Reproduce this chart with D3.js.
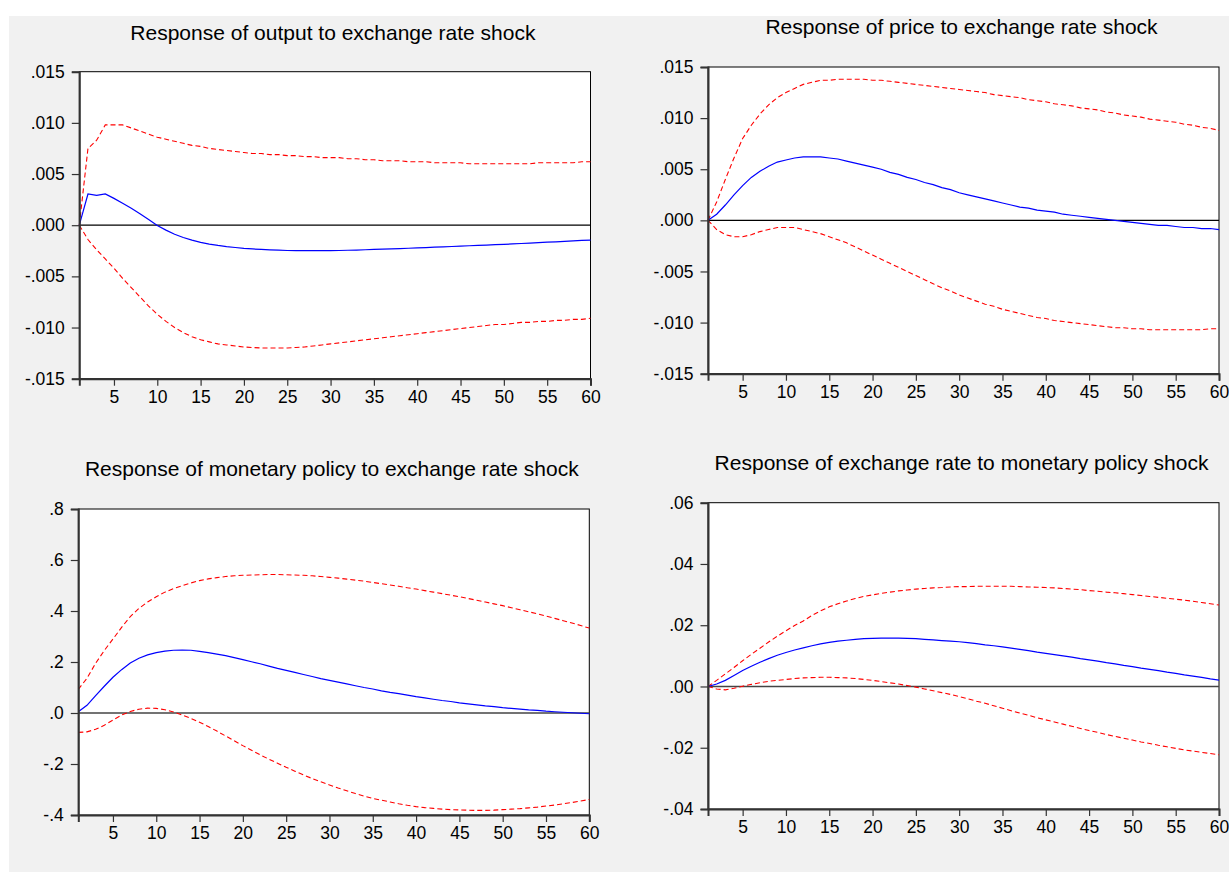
<!DOCTYPE html>
<html>
<head>
<meta charset="utf-8">
<script src="https://cdn.jsdelivr.net/npm/d3@7"></script>
<style>
  html, body { margin: 0; padding: 0; background: #ffffff; }
  svg { display: block; font-family: "Liberation Sans", Arial, sans-serif; }
</style>
</head>
<body>
<svg id="chart" width="1229" height="873"></svg>
<script>
// Impulse-response horizon
const periods = d3.range(1, 61);

// Panel titles
const titles = [
  "Response of output to exchange rate shock",
  "Response of price to exchange rate shock",
  "Response of monetary policy to exchange rate shock",
  "Response of exchange rate to monetary policy shock"
];

// X axis ticks (shared)
const xTicks = [5, 10, 15, 20, 25, 30, 35, 40, 45, 50, 55, 60];

// Y axis ticks and their labels per panel
const yTicksOutput = [-0.015, -0.010, -0.005, 0, 0.005, 0.010, 0.015];
const yLabelsOutput = ["-.015", "-.010", "-.005", ".000", ".005", ".010", ".015"];
const yTicksPrice = [-0.015, -0.010, -0.005, 0, 0.005, 0.010, 0.015];
const yLabelsPrice = ["-.015", "-.010", "-.005", ".000", ".005", ".010", ".015"];
const yTicksPolicy = [-0.4, -0.2, 0, 0.2, 0.4, 0.6, 0.8];
const yLabelsPolicy = ["-.4", "-.2", ".0", ".2", ".4", ".6", ".8"];
const yTicksRate = [-0.04, -0.02, 0, 0.02, 0.04, 0.06];
const yLabelsRate = ["-.04", "-.02", ".00", ".02", ".04", ".06"];

// Output response to exchange rate shock
const outputIrf = [
  0, .00305, .00292, .00305, .00262, .00215, .00165, .00112, .00055, -.00002,
  -.00048, -.00088, -.00120, -.00146, -.00168, -.00185, -.00198, -.00209, -.00218, -.00226,
  -.00232, -.00237, -.00241, -.00244, -.00247, -.00248, -.00249, -.00249, -.00249, -.00248,
  -.00247, -.00245, -.00243, -.00240, -.00237, -.00234, -.00231, -.00228, -.00225, -.00222,
  -.00219, -.00215, -.00212, -.00208, -.00204, -.00201, -.00197, -.00194, -.00190, -.00187,
  -.00183, -.00179, -.00175, -.00171, -.00166, -.00162, -.00158, -.00153, -.00149, -.00145
];
const outputUpper = [
  0, .0075, .0083, .0098, .0098, .0098, .0095, .0092, .0089, .0086,
  .0084, .0082, .0080, .0078, .0077, .0075, .0074, .0073, .0072, .0071,
  .0070, .0070, .0069, .0069, .0068, .0068, .0067, .0067, .0066, .0066,
  .0066, .0065, .0065, .0064, .0064, .0063, .0063, .0063, .0062, .0062,
  .0062, .0061, .0061, .0061, .0061, .0060, .0060, .0060, .0060, .0060,
  .0060, .0060, .0060, .0061, .0061, .0061, .0061, .0061, .0062, .0062
];
const outputLower = [
  0, -.0014, -.0024, -.0033, -.0042, -.0052, -.0061, -.0070, -.0079, -.0087,
  -.0094, -.0100, -.0105, -.0109, -.0112, -.0114, -.0116, -.0117, -.0118, -.0119,
  -.01195, -.0120, -.0120, -.0120, -.0120, -.01195, -.0119, -.0118, -.0117, -.0116,
  -.0115, -.0114, -.0113, -.0112, -.0111, -.0110, -.0109, -.0108, -.0107, -.0106,
  -.0105, -.0104, -.0103, -.0102, -.0101, -.0100, -.0099, -.0098, -.0097, -.0097,
  -.0096, -.0095, -.0095, -.0094, -.0094, -.0093, -.0093, -.0092, -.0092, -.0091
];

// Price response to exchange rate shock
const priceIrf = [
  0, .0006, .0015, .0025, .0034, .0042, .0048, .0053, .0057, .0059,
  .0061, .0062, .0062, .0062, .0061, .0060, .0058, .0056, .0054, .0052,
  .0050, .0047, .0045, .0042, .0040, .0037, .0035, .0032, .0030, .0027,
  .0025, .0023, .0021, .0019, .0017, .0015, .0013, .0012, .0010, .0009,
  .0008, .0006, .0005, .0004, .0003, .0002, .0001, .0000, -.0001, -.0002,
  -.0003, -.0004, -.0005, -.0005, -.0006, -.0007, -.0007, -.0008, -.0008, -.0009
];
const priceUpper = [
  0, .0018, .0040, .0061, .0080, .0093, .0104, .0113, .0120, .0125,
  .0129, .0133, .0135, .0137, .0137, .0138, .0138, .0138, .0138, .0137,
  .0137, .0136, .0135, .0134, .0133, .0132, .0131, .0130, .0129, .0128,
  .0127, .0126, .0125, .0123, .0122, .0121, .0120, .0118, .0117, .0116,
  .0114, .0113, .0112, .0110, .0109, .0108, .0106, .0105, .0103, .0102,
  .0101, .0099, .0098, .0097, .0096, .0094, .0093, .0091, .0090, .0088
];
const priceLower = [
  0, -.0009, -.0014, -.0016, -.0016, -.0014, -.0011, -.0009, -.0007, -.0007,
  -.0007, -.0009, -.0011, -.0013, -.0016, -.0019, -.0022, -.0026, -.0030, -.0034,
  -.0038, -.0042, -.0046, -.0050, -.0054, -.0058, -.0062, -.0066, -.0069, -.0073,
  -.0076, -.0079, -.0082, -.0084, -.0087, -.0089, -.0091, -.0093, -.0095, -.0096,
  -.0098, -.0099, -.0100, -.0101, -.0102, -.0103, -.0104, -.0105, -.0105, -.0106,
  -.0106, -.0107, -.0107, -.0107, -.0107, -.0107, -.0107, -.0107, -.0106, -.0106
];

// Monetary policy response to exchange rate shock
const policyIrf = [
  .005, .030, .068, .105, .140, .170, .196, .215, .228, .237,
  .243, .246, .247, .246, .242, .237, .231, .225, .217, .209,
  .201, .193, .184, .175, .167, .159, .151, .143, .135, .128,
  .121, .114, .107, .100, .094, .087, .081, .076, .070, .064,
  .059, .054, .049, .045, .040, .036, .032, .028, .025, .021,
  .018, .015, .012, .010, .007, .005, .003, .001, -.001, -.003
];
const policyUpper = [
  .093, .136, .195, .245, .290, .336, .378, .410, .435, .456,
  .474, .488, .499, .510, .519, .526, .531, .535, .538, .540,
  .541, .542, .543, .543, .542, .541, .540, .538, .535, .532,
  .529, .525, .521, .517, .512, .507, .502, .497, .491, .486,
  .480, .474, .468, .462, .456, .449, .442, .435, .428, .421,
  .413, .405, .397, .389, .380, .371, .362, .353, .343, .333
];
const policyLower = [
  -.076, -.074, -.064, -.048, -.028, -.008, .006, .015, .019, .018,
  .013, .004, -.008, -.021, -.036, -.053, -.071, -.090, -.109, -.128,
  -.146, -.164, -.181, -.197, -.213, -.228, -.243, -.257, -.270, -.282,
  -.294, -.305, -.316, -.326, -.335, -.342, -.349, -.356, -.362, -.367,
  -.371, -.374, -.377, -.379, -.380, -.381, -.382, -.382, -.381, -.379,
  -.377, -.375, -.372, -.369, -.365, -.361, -.356, -.351, -.345, -.339
];

// Exchange rate response to monetary policy shock
const rateIrf = [
  .0000, .0008, .0020, .0036, .0052, .0066, .0079, .0091, .0102, .0111,
  .0119, .0126, .0133, .0139, .0144, .0148, .0151, .0154, .0156, .0157,
  .0158, .0158, .0158, .0157, .0156, .0154, .0152, .0150, .0148, .0146,
  .0143, .0140, .0136, .0133, .0129, .0125, .0121, .0117, .0112, .0108,
  .0104, .0100, .0096, .0091, .0087, .0083, .0078, .0074, .0069, .0065,
  .0060, .0056, .0052, .0047, .0043, .0038, .0034, .0030, .0025, .0021
];
const rateUpper = [
  .0000, .0020, .0041, .0062, .0084, .0105, .0125, .0145, .0164, .0182,
  .0199, .0214, .0232, .0247, .0260, .0270, .0279, .0287, .0294, .0299,
  .0304, .0308, .0312, .0315, .0318, .0320, .0322, .0323, .0325, .0326,
  .0326, .0327, .0327, .0327, .0327, .0327, .0326, .0325, .0324, .0323,
  .0322, .0320, .0318, .0316, .0313, .0311, .0308, .0306, .0303, .0300,
  .0297, .0294, .0291, .0288, .0285, .0282, .0278, .0274, .0270, .0266
];
const rateLower = [
  .0000, -.0008, -.0011, -.0006, .0001, .0007, .0012, .0017, .0020, .0023,
  .0026, .0028, .0029, .0030, .0030, .0029, .0028, .0026, .0023, .0020,
  .0016, .0012, .0008, .0003, -.0002, -.0008, -.0014, -.0020, -.0026, -.0033,
  -.0040, -.0048, -.0055, -.0063, -.0071, -.0079, -.0087, -.0094, -.0102, -.0109,
  -.0116, -.0123, -.0130, -.0137, -.0144, -.0150, -.0157, -.0163, -.0169, -.0175,
  -.0181, -.0186, -.0192, -.0197, -.0202, -.0207, -.0211, -.0215, -.0219, -.0223
];

// Panel layout (plot-area boxes in page pixels) and data bindings
const panels = [
  { title: titles[0], box: { l: 79.3, r: 590.5, t: 71.7, b: 378.7 }, titleY: 40.3,
    ticks: yTicksOutput, labels: yLabelsOutput, irf: outputIrf, up: outputUpper, lo: outputLower,
    zeroColor: "#000", zeroWidth: 1.2 },
  { title: titles[1], box: { l: 708, r: 1219, t: 67, b: 373.7 }, titleY: 34,
    ticks: yTicksPrice, labels: yLabelsPrice, irf: priceIrf, up: priceUpper, lo: priceLower,
    zeroColor: "#000", zeroWidth: 1.2 },
  { title: titles[2], box: { l: 78.3, r: 589.3, t: 509, b: 815 }, titleY: 475.7,
    ticks: yTicksPolicy, labels: yLabelsPolicy, irf: policyIrf, up: policyUpper, lo: policyLower,
    zeroColor: "#444", zeroWidth: 1.6 },
  { title: titles[3], box: { l: 708, r: 1219, t: 502.7, b: 809 }, titleY: 470,
    ticks: yTicksRate, labels: yLabelsRate, irf: rateIrf, up: rateUpper, lo: rateLower,
    zeroColor: "#444", zeroWidth: 1.6 }
];

const svg = d3.select("#chart");

// Light grey canvas behind the four graphs
svg.append("rect")
  .attr("x", 9).attr("y", 16)
  .attr("width", 1220).attr("height", 856)
  .attr("fill", "#f1f1f1");

panels.forEach(p => {
  const b = p.box;
  const x = d3.scaleLinear().domain([1, 60]).range([b.l, b.r]);
  const y = d3.scaleLinear()
    .domain([d3.min(p.ticks), d3.max(p.ticks)])
    .range([b.b, b.t]);

  const g = svg.append("g");

  // White plot area with frame
  g.append("rect")
    .attr("x", b.l).attr("y", b.t)
    .attr("width", b.r - b.l).attr("height", b.b - b.t)
    .attr("fill", "#ffffff")
    .attr("stroke", "#000").attr("stroke-width", 1);

  // Title
  g.append("text")
    .attr("x", (b.l + b.r) / 2 - 2)
    .attr("y", p.titleY)
    .attr("text-anchor", "middle")
    .attr("font-size", 21)
    .attr("fill", "#000")
    .text(p.title);

  // Zero line
  g.append("line")
    .attr("x1", x(1)).attr("x2", x(60))
    .attr("y1", y(0)).attr("y2", y(0))
    .attr("stroke", p.zeroColor).attr("stroke-width", p.zeroWidth);

  const line = d3.line()
    .x((d, i) => x(periods[i]))
    .y(d => y(d));

  // Confidence bands (dashed red) and point response (solid blue)
  [p.up, p.lo].forEach(series => {
    g.append("path")
      .datum(series)
      .attr("d", line)
      .attr("fill", "none")
      .attr("stroke", "#ff0000")
      .attr("stroke-width", 1.1)
      .attr("stroke-dasharray", "5,3");
  });
  g.append("path")
    .datum(p.irf)
    .attr("d", line)
    .attr("fill", "none")
    .attr("stroke", "#0000ff")
    .attr("stroke-width", 1.2);

  // Axes
  const yAxis = d3.axisLeft(y)
    .tickValues(p.ticks)
    .tickFormat((d, i) => p.labels[i])
    .tickSize(7.5)
    .tickPadding(7);
  const xAxis = d3.axisBottom(x)
    .tickValues(xTicks)
    .tickFormat(d => String(d))
    .tickSize(7)
    .tickPadding(4.5);

  const ya = g.append("g").attr("transform", `translate(${b.l},0)`).call(yAxis);
  const xa = g.append("g").attr("transform", `translate(0,${b.b})`).call(xAxis);

  [ya, xa].forEach(a => {
    a.select(".domain").attr("stroke", "#333").attr("stroke-width", 2);
    a.selectAll(".tick line").attr("stroke", "#333").attr("stroke-width", 1.2);
    a.selectAll(".tick text")
      .attr("fill", "#000")
      .attr("font-size", 17.5)
      .attr("font-family", "'Liberation Sans', Arial, sans-serif");
  });
});
</script>
</body>
</html>
